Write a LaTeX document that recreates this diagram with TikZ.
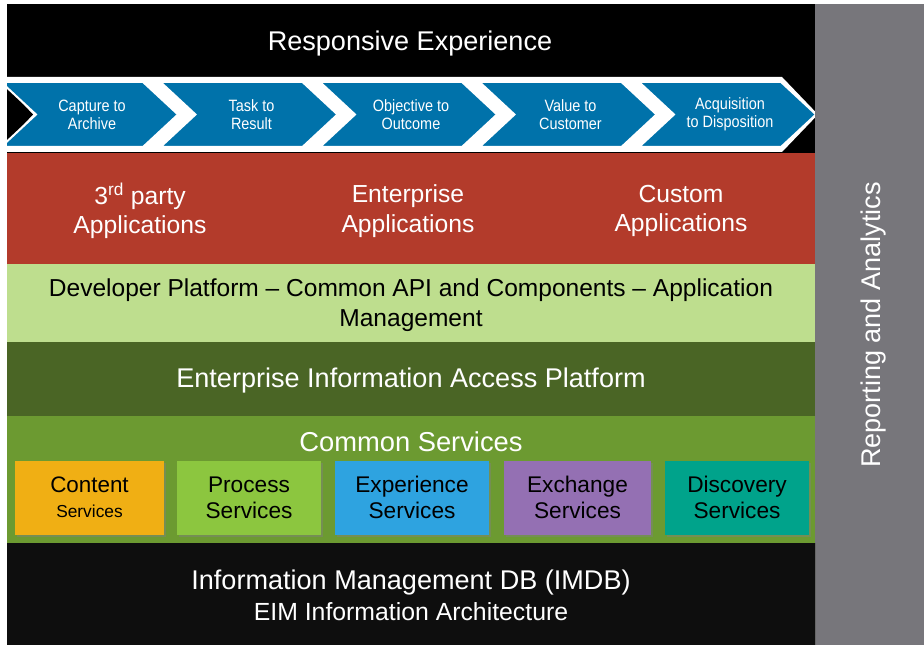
\documentclass[tikz,border=0pt]{standalone}
\usepackage{fontspec}
\setmainfont{Liberation Sans}
\newfontfamily\narrowfont[FakeStretch=0.88]{Liberation Sans}
\usetikzlibrary{shadows}
\definecolor{chevblue}{HTML}{0072AA}
\definecolor{appred}{HTML}{B33B2B}
\definecolor{devgreen}{HTML}{BEDE8E}
\definecolor{eiagreen}{HTML}{4A6525}
\definecolor{csgreen}{HTML}{6C9A31}
\definecolor{contentc}{HTML}{F0AF14}
\definecolor{processc}{HTML}{8CC63F}
\definecolor{experiencec}{HTML}{2EA3E0}
\definecolor{exchangec}{HTML}{9470B3}
\definecolor{discoveryc}{HTML}{00A38B}
\definecolor{panelgray}{HTML}{77767B}
\definecolor{dbblack}{HTML}{0E0E0E}
\begin{document}
\begin{tikzpicture}[x=0.75pt,y=-0.75pt,
  wtxt/.style={text=white, align=center, inner sep=0pt},
  btxt/.style={text=black, align=center, inner sep=0pt},
  chev/.style={fill=chevblue, draw=white, line width=1.5pt, line join=miter},
  chevtxt/.style={text=white, align=center, inner sep=0pt,
    font=\narrowfont\fontsize{12.3}{13.5}\selectfont},
  apptxt/.style={wtxt, font=\fontsize{18.5}{22}\selectfont},
  bigtxt/.style={font=\fontsize{20.3}{24}\selectfont},
  svc/.style={draw=none, minimum height=74*0.75pt, inner sep=0pt, align=center,
    text=black, font=\fontsize{17}{19.5}\selectfont,
    drop shadow={shadow xshift=1.5pt, shadow yshift=-1.5pt, opacity=0.45}}
]
\useasboundingbox (0,0) rectangle (924,645);
\fill[white] (0,0) rectangle (924,645);
\begin{scope}
\clip (7,4.5) rectangle (815,645);
% layers
\fill[black] (0,4.5) rectangle (815,153);
\fill[appred] (0,153) rectangle (815,264);
\fill[devgreen] (0,264) rectangle (815,342);
\fill[eiagreen] (0,342) rectangle (815,416);
\fill[csgreen] (0,416) rectangle (815,543);
\fill[dbblack] (0,543) rectangle (815,645);
% chevron band
\fill[white] (0,77) -- (782,77) -- (818,114.5) -- (782,152) -- (0,152) -- cycle;
\fill[black] (7,87) -- (33,114.5) -- (7,142) -- cycle;
\foreach \i/\t in {0/{Capture to\\Archive}, 1/{Task to\\Result}, 2/{Objective to\\Outcome}, 3/{Value to\\Customer}, 4/{Acquisition\\to Disposition}} {
  \pgfmathsetmacro\xo{1+159.5*\i}
  \draw[chev] (\xo,82) -- ++(142,0) -- ++(35,32.5) -- ++(-35,32.5) -- ++(-142,0) -- ++(35,-32.5) -- cycle;
  \node[chevtxt] (chev\i) at (\xo+91,114.5) {\t};
}
\end{scope}
% gray panel
\fill[panelgray] (815,4.5) rectangle (924,645);
\draw[black!60, line width=0.6pt] (815,543) -- (815,645);
% texts
\node[wtxt, bigtxt] (resp) at (410,44) {Responsive Experience};
\node[apptxt] (app3) at (140,211) {3\textsuperscript{rd} party\\Applications};
\node[apptxt] (appent) at (408,211) {Enterprise\\Applications};
\node[apptxt] (appcus) at (681,211) {Custom\\Applications};
\node[btxt, font=\fontsize{18.4}{22}\selectfont] (dev) at (411,305)
  {Developer Platform -- Common API and Components -- Application\\Management};
\node[wtxt, bigtxt] (eia) at (411,381) {Enterprise Information Access Platform};
\node[wtxt, font=\fontsize{20.5}{24}\selectfont] (cs) at (411,442) {Common Services};
% service boxes
\node[svc, fill=contentc, minimum width=149*0.75pt] (content) at (89.5,497.5)
  {\fontsize{16.8}{18}\selectfont Content\\[-1pt]{\fontsize{13}{16}\selectfont Services}};
\node[svc, fill=processc, minimum width=144*0.75pt] (process) at (249,497.5) {Process\\Services};
\node[svc, fill=experiencec, minimum width=154*0.75pt] (experience) at (412,497.5) {Experience\\Services};
\node[svc, fill=exchangec, minimum width=147*0.75pt] (exchange) at (577.5,497.5) {Exchange\\Services};
\node[svc, fill=discoveryc, minimum width=144*0.75pt] (discovery) at (737,497.5) {Discovery\\Services};
% database
\node[wtxt, bigtxt] (imdb) at (411,582) {Information Management DB (IMDB)};
\node[wtxt, font=\fontsize{18.6}{22}\selectfont] (eim) at (411,612) {EIM Information Architecture};
% side panel
\node[wtxt, bigtxt, rotate=90] (rep) at (873,325) {Reporting and Analytics};
\end{tikzpicture}
\end{document}
